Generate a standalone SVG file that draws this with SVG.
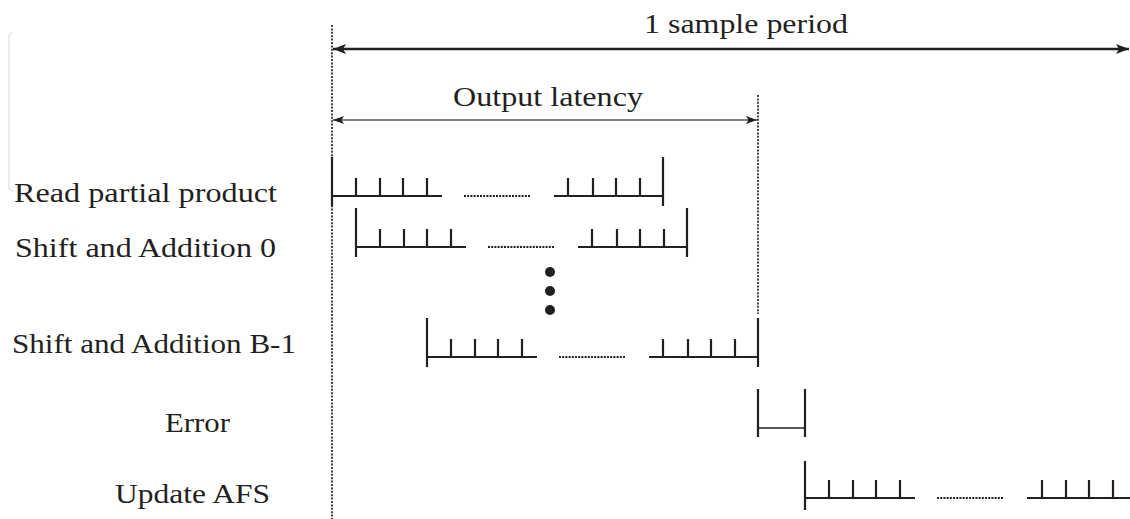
<svg xmlns="http://www.w3.org/2000/svg" xmlns:xlink="http://www.w3.org/1999/xlink" width="1130" height="519" viewBox="0 0 1130 519">
<style>
  text { font-family: "Liberation Serif", "DejaVu Serif", serif; font-size: 27px; fill: #231f20; }
  .bar { stroke: #231f20; stroke-width: 2.2; fill: none; }
  .dots { stroke: #231f20; stroke-width: 2.2; stroke-dasharray: 2 1.2; fill: none; }
  .guide { stroke: #231f20; stroke-width: 1.7; stroke-dasharray: 2 1.4; fill: none; }
  .period { stroke: #231f20; stroke-width: 2.5; fill: none; }
  .latency { stroke: #555; stroke-width: 1.3; fill: none; }
</style>
<defs>
  <marker id="headBig" markerUnits="userSpaceOnUse" markerWidth="14" markerHeight="12" refX="13" refY="6" orient="auto-start-reverse">
    <path d="M0,1 L13,6 L0,11 L3,6 Z" fill="#231f20"/>
  </marker>
  <marker id="headSmall" markerUnits="userSpaceOnUse" markerWidth="12" markerHeight="10" refX="11" refY="5" orient="auto-start-reverse">
    <path d="M0,1 L11,5 L0,9 L2.5,5 Z" fill="#231f20"/>
  </marker>
  <g id="bar">
    <path class="bar" d="M0,-39 V10 M0,0 H110 M24,-18 V0 M48,-18 V0 M71,-18 V0 M95,-18 V0"/>
    <path class="dots" d="M132,0 H198"/>
    <path class="bar" d="M222,0 H331 M236,-18 V0 M261,-18 V0 M284,-18 V0 M308,-18 V0 M331,-39 V10"/>
  </g>
</defs>
<rect width="1130" height="519" fill="#ffffff"/>
<path d="M13,33 Q9,33 9,37 L9,187 Q9,191 13,191" stroke="#ececec" stroke-width="2" fill="none"/>

<g id="connectors">
  <line class="guide" x1="332" y1="25" x2="332" y2="519"/>
  <line class="guide" x1="758" y1="95" x2="758" y2="314"/>
  <line class="period" x1="333" y1="49" x2="1129" y2="49" marker-start="url(#headBig)" marker-end="url(#headBig)"/>
  <line class="latency" x1="333" y1="120" x2="757" y2="120" marker-start="url(#headSmall)" marker-end="url(#headSmall)"/>
  <text x="644" y="33" textLength="204" lengthAdjust="spacingAndGlyphs">1 sample period</text>
  <text x="453" y="106" textLength="190" lengthAdjust="spacingAndGlyphs">Output latency</text>
</g>

<g id="read-partial-product">
  <text x="14" y="202" textLength="263" lengthAdjust="spacingAndGlyphs">Read partial product</text>
  <use xlink:href="#bar" href="#bar" transform="translate(332,196)"/>
</g>
<g id="shift-add-0">
  <text x="15" y="257" textLength="261" lengthAdjust="spacingAndGlyphs">Shift and Addition 0</text>
  <use xlink:href="#bar" href="#bar" transform="translate(356,247)"/>
</g>
<g id="ellipsis">
  <circle cx="550" cy="272" r="5" fill="#231f20"/>
  <circle cx="550" cy="291" r="5" fill="#231f20"/>
  <circle cx="550" cy="310" r="5" fill="#231f20"/>
</g>
<g id="shift-add-b1">
  <text x="12" y="353" textLength="284" lengthAdjust="spacingAndGlyphs">Shift and Addition B-1</text>
  <use xlink:href="#bar" href="#bar" transform="translate(427,357)"/>
</g>
<g id="error">
  <text x="165" y="432" textLength="65" lengthAdjust="spacingAndGlyphs">Error</text>
  <path class="bar" d="M758,389 V437 M805,389 V437"/>
  <path d="M758,428 H805" stroke="#231f20" stroke-width="1.4" fill="none"/>
</g>
<g id="update-afs">
  <text x="115" y="503" textLength="155" lengthAdjust="spacingAndGlyphs">Update AFS</text>
  <path class="bar" d="M805,461 V510 M805,498 H915 M829,480 V498 M853,480 V498 M876,480 V498 M900,480 V498"/>
  <path class="dots" d="M937,498 H1003"/>
  <path class="bar" d="M1027,498 H1130 M1042,480 V498 M1066,480 V498 M1089,480 V498 M1113,480 V498"/>
</g>
</svg>
